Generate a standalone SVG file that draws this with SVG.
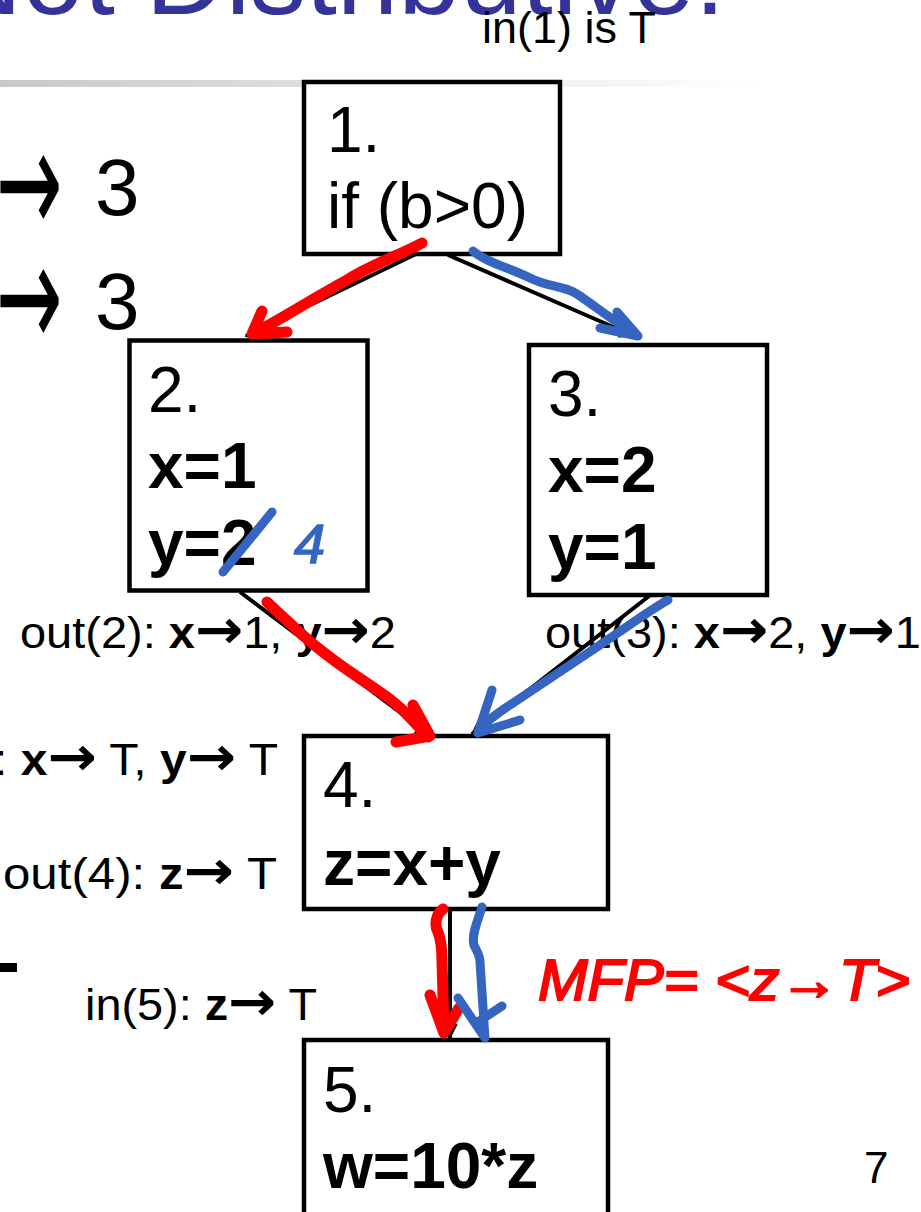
<svg xmlns="http://www.w3.org/2000/svg" width="921" height="1212" viewBox="0 0 921 1212">
<style>
  .box { fill: #ffffff; stroke: #000000; stroke-width: 4.5; }
  .nt { font-family: "Liberation Sans", Arial, sans-serif; font-size: 64px; fill: #000000; }
  .b { font-weight: bold; }
  .lbl { font-family: "Liberation Sans", Arial, sans-serif; font-size: 44px; fill: #000000; }
  .ar { font-family: "DejaVu Sans", sans-serif; font-weight: bold; font-size: 54px; }
  .bigar { font-family: "DejaVu Sans", sans-serif; font-size: 150px; fill: #000000; }
  .edge { fill: none; stroke: #000000; stroke-width: 4; }
  .red { fill: none; stroke: #ff0000; stroke-width: 11; stroke-linecap: round; stroke-linejoin: round; }
  .blue { fill: none; stroke: #3565c0; stroke-width: 9; stroke-linecap: round; stroke-linejoin: round; }
  .ink { font-family: "Liberation Sans", Arial, sans-serif; font-style: italic; }
</style>
<defs>
  <linearGradient id="rule" x1="0" y1="0" x2="1" y2="0">
    <stop offset="0" stop-color="#c8c8c8"/>
    <stop offset="1" stop-color="#ffffff"/>
  </linearGradient>
  <marker id="ah" viewBox="0 0 10 10" refX="9" refY="5" markerWidth="4" markerHeight="4" orient="auto" markerUnits="strokeWidth">
    <path d="M0,0 L10,5 L0,10 z" fill="#000000"/>
  </marker>
</defs>

<!-- title (cut off at top) -->
<text x="-58" y="14" font-family="Liberation Sans, Arial, sans-serif" font-size="111" fill="#333399">Not Distributive:</text>
<rect x="0" y="80" width="760" height="7" fill="url(#rule)"/>

<!-- left side partial text -->
<text class="bigar" transform="translate(-4,234) scale(0.53,1)">→</text>
<text x="95" y="215" font-family="Liberation Sans, Arial, sans-serif" font-size="80" fill="#000">3</text>
<text class="bigar" transform="translate(-4,348) scale(0.53,1)">→</text>
<text x="95" y="329" font-family="Liberation Sans, Arial, sans-serif" font-size="80" fill="#000">3</text>
<rect x="0" y="963" width="17" height="9" fill="#000"/>

<!-- connectors -->
<g id="connectors">
  <line class="edge" x1="416" y1="254" x2="246" y2="336" marker-end="url(#ah)"/>
  <line class="edge" x1="448" y1="255" x2="634" y2="336" marker-end="url(#ah)"/>
  <line class="edge" x1="240" y1="592" x2="430" y2="735" marker-end="url(#ah)"/>
  <line class="edge" x1="653" y1="593" x2="472" y2="734" marker-end="url(#ah)"/>
  <line class="edge" x1="450" y1="910" x2="450" y2="1038" marker-end="url(#ah)"/>
</g>

<!-- nodes -->
<g id="node1">
  <rect class="box" x="304" y="82" width="256" height="172"/>
  <text class="nt" x="327" y="152">1.</text>
  <text class="nt" x="327" y="228">if (b&gt;0)</text>
</g>
<g id="node2">
  <rect class="box" x="129.5" y="340.5" width="238" height="250"/>
  <text class="nt" x="148" y="412">2.</text>
  <text class="nt b" x="148" y="488">x=1</text>
  <text class="nt b" x="148" y="565">y=2</text>
</g>
<g id="node3">
  <rect class="box" x="529" y="345" width="238" height="250"/>
  <text class="nt" x="548" y="416">3.</text>
  <text class="nt b" x="548" y="492">x=2</text>
  <text class="nt b" x="548" y="569">y=1</text>
</g>
<g id="node4">
  <rect class="box" x="304" y="736" width="304" height="173"/>
  <text class="nt" x="323" y="807">4.</text>
  <text class="nt b" x="323" y="885">z=x+y</text>
</g>
<g id="node5">
  <rect class="box" x="304" y="1040" width="304" height="185"/>
  <text class="nt" x="323" y="1112">5.</text>
  <text class="nt b" x="323" y="1188">w=10*z</text>
</g>

<!-- labels -->
<text class="lbl" x="482" y="43" font-size="40" textLength="174" lengthAdjust="spacingAndGlyphs">in(1) is T</text>
<text class="lbl" x="20" y="648" textLength="376" lengthAdjust="spacingAndGlyphs">out(2): <tspan class="b">x</tspan><tspan class="ar">→</tspan>1, <tspan class="b">y</tspan><tspan class="ar">→</tspan>2</text>
<text class="lbl" x="545" y="648" textLength="376" lengthAdjust="spacingAndGlyphs">out(3): <tspan class="b">x</tspan><tspan class="ar">→</tspan>2, <tspan class="b">y</tspan><tspan class="ar">→</tspan>1</text>
<text class="lbl" x="-102" y="775" textLength="380" lengthAdjust="spacingAndGlyphs">in(4): <tspan class="b">x</tspan><tspan class="ar">→</tspan> T, <tspan class="b">y</tspan><tspan class="ar">→</tspan> T</text>
<text class="lbl" x="3" y="889" textLength="274" lengthAdjust="spacingAndGlyphs">out(4): <tspan class="b">z</tspan><tspan class="ar">→</tspan> T</text>
<text class="lbl" x="85" y="1020" textLength="232" lengthAdjust="spacingAndGlyphs">in(5): <tspan class="b">z</tspan><tspan class="ar">→</tspan> T</text>
<text class="lbl" x="864" y="1183" font-size="40">7</text>

<!-- handwritten annotations -->
<g id="ink">
  <path class="red" d="M422,243 C400,255 370,265 347,280 C310,300 280,320 252,334 M262,311 L252,334 L287,332"/>
  <path class="blue" d="M473,251 C485,262 510,268 530,278 C550,288 565,285 580,296 C600,310 615,322 638,336 M617,312 L638,336 L600,328"/>
  <path class="red" d="M267,602 C275,610 283,617 295,628 C320,652 350,672 380,692 C400,705 410,718 428,737 M413,705 L430,736 L396,742"/>
  <path class="blue" d="M668,600 C650,610 630,625 597,647 C570,665 540,685 507,707 C495,715 485,722 478,732 M492,690 L478,733 L520,720"/>
  <path class="red" stroke-width="8" d="M443,909 C436,914 434,925 438,932 C441,940 442,950 442,960 L444,1033 M430,995 L444,1033 L459,1008"/>
  <path class="blue" stroke-width="6" d="M482,907 C478,920 471,935 474,945 C476,950 480,955 480,962 L485,1038 M458,998 L485,1038 M502,1006 L478,1022 L485,1038"/>
  <path class="blue" stroke-width="4" d="M223,572 L272,512"/>
  <text class="ink" x="294" y="563" font-size="56" fill="#3565c0" stroke="#3565c0" stroke-width="1.5">4</text>
  <text class="ink" x="538" y="1000" font-size="58" fill="#ff0000" stroke="#ff0000" stroke-width="2" textLength="372" lengthAdjust="spacingAndGlyphs">MFP= &lt;z→T&gt;</text>
</g>
</svg>
